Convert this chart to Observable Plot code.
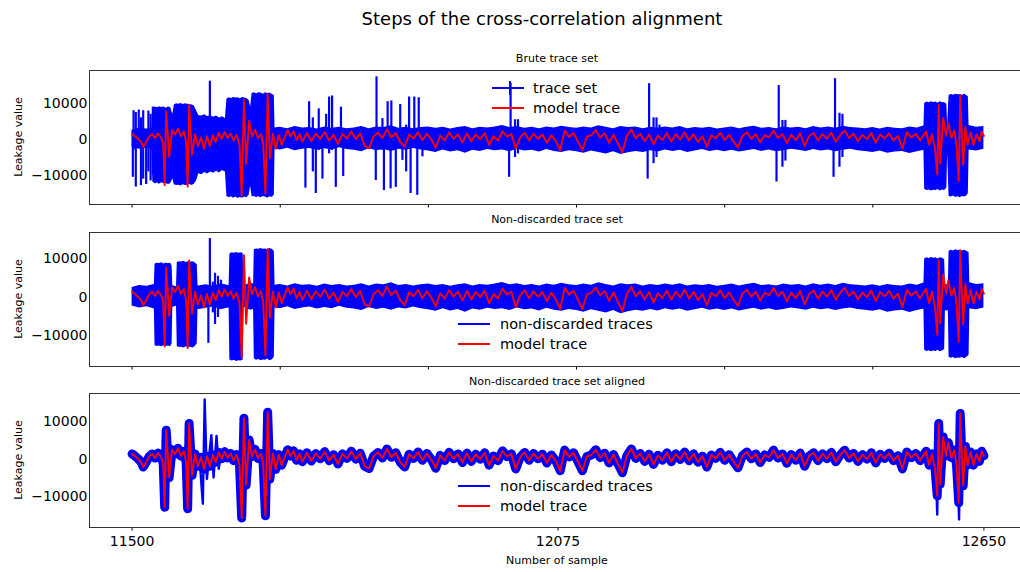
<!DOCTYPE html>
<html>
<head>
<meta charset="utf-8">
<script src="https://cdn.jsdelivr.net/npm/d3@7"></script>
<script src="https://cdn.jsdelivr.net/npm/@observablehq/plot@0.6"></script>
<style>
  html, body { margin: 0; padding: 0; background: #fff; overflow: hidden; }
  #chart { position: relative; width: 1020px; height: 572px; overflow: hidden; font-family: "DejaVu Sans", sans-serif; color: #000; }
  .t { position: absolute; white-space: nowrap; line-height: 1; }
</style>
</head>
<body>
<div id="chart"></div>
<script>
// ---------- data ----------
const xTicksTop = [11500, 11700, 11900, 12100, 12300, 12500];
const xTicksBottom = [11500, 12075, 12650];
const yTicks = [-10000, 0, 10000];

// model trace [sample, leakage]
const modelTrace = [
  [11500,1500],[11504,900],[11508,200],[11512,-600],[11515,-2000],[11519,-700],[11523,800],[11527,1500],
  [11531,400],[11535,1700],[11539,600],[11542,-1000],[11544,-12700],[11546,7800],[11548,2000],[11550,-4800],
  [11554,2600],[11558,1400],[11562,3000],[11566,900],[11570,2200],[11573,-800],[11575,-13100],[11577,9600],
  [11579,2500],[11581,-4200],[11585,1500],[11589,-1800],[11593,600],[11597,-2600],[11601,900],[11605,-1800],
  [11609,1200],[11613,-700],[11617,1900],[11621,200],[11625,2100],[11629,400],[11633,1600],[11637,-300],
  [11641,1300],[11645,-1400],[11648,-15600],[11651,11000],[11654,-6800],[11658,5200],[11662,800],[11666,2700],
  [11670,300],[11674,1600],[11677,-1200],[11680,-15000],[11683,12600],[11686,-5200],[11690,1600],[11694,-2600],
  [11698,1300],[11702,-1500],[11706,600],[11710,2600],[11714,900],[11718,2300],[11722,-200],[11726,1500],[11730,-600],
  [11736,1800],[11742,-400],[11748,1600],[11754,200],[11760,2100],[11766,-300],[11772,1300],[11778,-1200],
  [11784,1500],[11790,300],[11796,2200],[11802,100],[11808,1700],[11814,-1800],[11820,-2400],[11826,900],
  [11832,1900],[11838,400],[11844,2800],[11850,600],[11856,1800],[11862,-700],[11868,-2000],[11874,1400],
  [11880,300],[11886,2000],[11892,-200],[11898,1600],[11904,0],[11910,-2300],[11916,1100],[11922,-300],
  [11928,1900],[11934,200],[11940,1500],[11946,-800],[11952,1700],[11958,-500],[11964,1400],[11970,100],
  [11976,1800],[11982,-1500],[11988,900],[11994,-300],[12000,2300],[12006,800],[12012,1500],[12018,-2500],
  [12024,600],[12030,1900],[12036,-200],[12042,1600],[12048,200],[12054,1400],[12060,-900],[12066,1200],
  [12072,-400],[12078,-3000],[12084,2500],[12090,700],[12096,1800],[12102,-600],[12108,-3000],[12114,800],
  [12120,1200],[12126,2600],[12132,500],[12138,1700],[12144,-900],[12150,1300],[12156,-1200],[12162,-3500],
  [12168,1000],[12174,2800],[12180,300],[12186,1600],[12192,-500],[12198,1400],[12204,-1300],[12210,1100],
  [12216,-200],[12222,1800],[12228,-600],[12234,1500],[12240,0],[12246,2000],[12252,-300],[12258,1500],
  [12264,-700],[12270,900],[12276,-2000],[12282,1200],[12288,300],[12294,1900],[12300,-200],[12306,1300],
  [12312,-600],[12318,-2200],[12324,1000],[12330,2000],[12336,200],[12342,1500],[12348,-800],[12354,1200],
  [12360,600],[12366,2500],[12372,400],[12378,1500],[12384,-1000],[12390,1300],[12396,-200],[12402,1700],
  [12408,-1800],[12414,900],[12420,1800],[12426,-300],[12432,1500],[12438,200],[12444,1900],[12450,-600],
  [12456,1200],[12462,2500],[12468,400],[12474,1600],[12480,-500],[12486,1300],[12492,100],[12498,1800],
  [12504,-900],[12510,1400],[12516,300],[12522,1700],[12528,-300],[12534,1000],[12540,-2500],[12546,2000],
  [12552,500],[12558,1600],[12564,-300],
  [12566,500],[12572,2200],[12576,-1500],[12580,1500],[12584,-2500],[12587,-9700],[12589,9600],[12591,-6600],
  [12595,6000],[12599,1000],[12602,4500],[12606,500],[12610,2500],[12613,-1500],[12616,-11500],[12618,12300],
  [12620,2000],[12622,-7000],[12625,3500],[12628,-1500],[12632,2000],[12636,-1500],[12640,1500],[12644,-500],
  [12647,2200],[12650,1000]
];

// envelope of the quiet part of the trace sets (every 10 samples from 11500)
const bandHigh = [
  2600,3100,2900,3400,3000,3300,2800,3200,3500,3000,
  3300,2900,3600,3100,3400,3000,3700,3200,3500,3100,
  3400,3000,3600,3200,3300,2900,3500,3100,3400,3000,
  3200,3600,3000,3500,3300,3800,3100,3400,3000,3300,
  3500,3100,3400,2900,3300,3600,3000,3400,3200,3500,
  3900,3300,3600,3100,3400,3000,3500,3200,3700,3300,
  3100,3500,3200,3800,3400,3000,3600,3300,3500,3000,
  3400,3100,3500,3200,3600,3000,3300,3100,3400,2900,
  3200,3500,3000,3400,3700,3100,3300,3000,3500,3200,
  3400,3000,3600,3200,3500,3100,3700,3300,3200,3000,
  3300,2900,3400,3100,3000,3500,3200,3800,3400,3600,
  3300,3700,3500,3900,3400,3600
];
const bandLow = [
  -2200,-2700,-2400,-3000,-2500,-2800,-2300,-2900,-2600,-3100,
  -2800,-2400,-3200,-2700,-3000,-2500,-3300,-2800,-3100,-2600,
  -2900,-2400,-3100,-2700,-2500,-3000,-2600,-2900,-2300,-2800,
  -3000,-3400,-2600,-3100,-2800,-3300,-2700,-3000,-2500,-2900,
  -3200,-3600,-2900,-3500,-3100,-3800,-3000,-3300,-2800,-3100,
  -2900,-3400,-2700,-3200,-3000,-3500,-2800,-3300,-3600,-3100,
  -3400,-3800,-3200,-3600,-4000,-3400,-4200,-3700,-3300,-3600,
  -3100,-3500,-2900,-3300,-3000,-3600,-3200,-2800,-3300,-3000,
  -3400,-3000,-3500,-3100,-2800,-3300,-2900,-3400,-3100,-2700,
  -3000,-3300,-2800,-3200,-2900,-3400,-3000,-2700,-3100,-3300,
  -3600,-3200,-3800,-3500,-3300,-3900,-3400,-3000,-3600,-3200,
  -3500,-3000,-3400,-2900,-3200,-2700
];

// bursts of the trace sets: [burst id, sample, low, high]
const bruteBursts = [
  [0,11527,-2500,3000],[0,11528,-11800,8600],[0,11531,-12300,9000],[0,11534,-12100,8800],[0,11537,-12400,9100],
  [0,11540,-12000,8900],[0,11543,-12300,9000],[0,11546,-12200,8700],[0,11549,-12500,9000],[0,11552,-12300,8900],
  [0,11555,-11000,7000],[0,11557,-12600,9600],[0,11560,-12800,9900],[0,11563,-12700,9800],[0,11566,-12900,10000],
  [0,11569,-12600,9700],[0,11572,-12800,9900],[0,11575,-12700,9800],[0,11578,-12500,9700],[0,11581,-12800,9600],
  [0,11584,-12400,9300],[0,11587,-11500,8000],[0,11590,-9500,6700],[0,11594,-9800,6500],[0,11598,-9200,6900],
  [0,11602,-9600,6400],[0,11606,-9000,6600],[0,11610,-9400,6200],[0,11614,-8800,6500],[0,11618,-9300,6000],
  [0,11622,-8600,6300],[0,11626,-9000,5800],[0,11628,-15800,11200],[0,11631,-16200,11600],[0,11634,-15900,11400],
  [0,11637,-16300,11700],[0,11640,-16000,11500],[0,11643,-16400,11600],[0,11646,-16100,11300],[0,11649,-16300,11700],
  [0,11652,-16000,11500],[0,11655,-16200,11400],[0,11658,-15500,10800],[0,11660,-13000,9000],[0,11662,-16000,12800],
  [0,11665,-15800,13000],[0,11668,-16100,12700],[0,11671,-15900,13000],[0,11674,-16200,12900],[0,11677,-15800,12600],
  [0,11680,-16000,13000],[0,11683,-16300,12800],[0,11686,-15900,12900],[0,11689,-16100,12600],[0,11692,-15500,12200],
  [0,11693,-3000,3200],
  [1,12569,-3000,3300],[1,12570,-13800,10000],[1,12573,-14200,10400],[1,12576,-14000,10200],[1,12579,-14300,10500],
  [1,12582,-14100,10300],[1,12585,-14200,10400],[1,12588,-13900,10100],[1,12591,-14300,10500],[1,12594,-14000,10300],
  [1,12597,-14200,10200],[1,12600,-13500,9800],[1,12601,-4000,4000],[1,12603,-15800,12200],[1,12606,-16000,12500],
  [1,12609,-15700,12300],[1,12612,-16100,12600],[1,12615,-15900,12400],[1,12618,-16200,12500],[1,12621,-15800,12300],
  [1,12624,-16000,12600],[1,12627,-15700,12200],[1,12629,-15000,11800],[1,12630,-3400,3500]
];
const keptBursts = [
  [0,11530,-2500,3000],[0,11531,-12500,8700],[0,11534,-12700,8900],[0,11537,-12600,8800],[0,11540,-12800,9000],
  [0,11543,-12500,8700],[0,11546,-12700,8900],[0,11549,-12600,8800],[0,11552,-12800,8900],[0,11554,-12000,8200],
  [0,11555,-2600,3000],
  [1,11560,-2600,3000],[1,11561,-12800,9100],[1,11564,-13000,9300],[1,11567,-12900,9200],[1,11570,-13100,9400],
  [1,11573,-12800,9100],[1,11576,-13000,9300],[1,11579,-12900,9200],[1,11582,-13100,9300],[1,11585,-12800,9000],
  [1,11588,-12000,8500],[1,11589,-2600,3000],
  [2,11631,-2800,3100],[2,11632,-16200,11300],[2,11635,-16500,11600],[2,11638,-16300,11500],[2,11641,-16600,11700],
  [2,11644,-16400,11500],[2,11647,-16500,11600],[2,11650,-16200,11400],[2,11651,-2800,3100],
  [3,11664,-2800,3100],[3,11665,-16000,12400],[3,11668,-16300,12600],[3,11671,-16100,12500],[3,11674,-16400,12700],
  [3,11677,-16200,12500],[3,11680,-16300,12600],[3,11683,-16000,12400],[3,11686,-16400,12700],[3,11689,-16200,12500],
  [3,11692,-15600,12000],[3,11693,-2800,3100],
  [4,12569,-3000,3300],[4,12570,-13700,10000],[4,12573,-14000,10300],[4,12576,-13800,10100],[4,12579,-14100,10400],
  [4,12582,-13900,10200],[4,12585,-14000,10300],[4,12588,-13700,10000],[4,12591,-14100,10300],[4,12594,-13900,10200],
  [4,12597,-13500,9800],[4,12598,-3500,3500],
  [5,12602,-3500,3500],[5,12603,-15500,12000],[5,12606,-15800,12300],[5,12609,-15600,12100],[5,12612,-15900,12400],
  [5,12615,-15700,12200],[5,12618,-15800,12300],[5,12621,-15600,12100],[5,12624,-15900,12300],[5,12627,-15500,12000],
  [5,12630,-15000,11600],[5,12631,-3300,3500]
];

// single excursions [sample, low, high]
const bruteSpikes = [
  [11501,-10500,2500],[11502,-3000,8000],[11505,-13200,7500],[11509,-2500,8200],[11512,-12800,6000],
  [11515,-11000,8000],[11519,-12500,2000],[11522,-9000,7900],[11525,-11500,7000],[11528,-10000,9000],
  [11605,-2000,16200],
  [11734,-13500,2500],[11739,-2000,10500],[11744,-9000,6000],[11748,-15000,2000],[11752,-3000,8500],
  [11757,-11000,2000],[11762,-2000,7000],[11766,-4000,11800],[11770,-3000,12100],[11775,-13300,2000],
  [11782,-2000,9000],[11785,-10300,2000],
  [11829,-11400,2000],[11830,-2000,17400],[11838,-3000,5800],[11840,-14200,2000],[11845,-2000,10500],
  [11849,-13700,2000],[11850,-2000,10700],[11856,-13300,2000],[11862,-2000,9700],[11865,-5800,2000],
  [11870,-9000,4000],[11874,-2000,11800],[11876,-15000,2000],[11881,-2000,11800],[11885,-15500,2000],
  [11887,-2000,11600],[11892,-4800,2000],
  [12009,-10500,1000],[12011,-1000,15600],[12017,-5000,5500],[12021,-4000,5500],
  [12196,-11000,1000],[12198,-1000,15500],[12204,-6700,6000],[12208,-5000,6000],[12212,-3000,4000],
  [12370,-11800,1000],[12373,-1000,15000],[12378,-7700,5300],[12382,-6000,5300],
  [12447,-10500,1000],[12449,-1000,16900],[12455,-7700,7300],[12459,-5000,7000]
];
const keptSpikes = [
  [11603,-11900,2000],[11605,-2000,15300],[11609,-4000,4000],[11612,-7000,6300],[11616,-5200,5500],[11620,-3000,4500]
];

// aligned traces: excursions beyond the model [segment, sample, leakage]
const alignedExtra = [
  [0,11591,500],[0,11595.5,-11800],[0,11598,16000],[0,11601,-5200],[0,11604,1000],[0,11607,6500],
  [0,11610,-4800],[0,11614,6300],[0,11617,-2500],[0,11620,1500],
  [1,12585,-2000],[1,12587,-14700],[1,12589,10500],[1,12591,-5000],
  [2,12614,-1500],[2,12616.5,-16000],[2,12618,12800],[2,12620,1000]
];

const titles = ["Brute trace set", "Non-discarded trace set", "Non-discarded trace set aligned"];

// ---------- build ----------
const root = document.getElementById("chart");
const BLUE = "#0000ff", RED = "#ff0000";
const xDomain = [11442.5, 12707.5];
const model = modelTrace.map(([x, y]) => ({x, y}));
const band = bandHigh.map((h, i) => ({x: 11500 + 10 * i, hi: h, lo: bandLow[i]}));
const toBurst = a => a.map(([id, x, lo, hi]) => ({id, x, lo, hi}));
const toRule = a => a.map(([x, y1, y2]) => ({x, y1, y2}));
const extra = alignedExtra.map(([z, x, y]) => ({z, x, y}));
const fmtY = d => d < 0 ? "\u2212" + Math.abs(d) : String(d);

const MT = 6, MB = 28, FH = 134;
function panel(frameTop, yDomain, marks, bottom) {
  const svg = Plot.plot({
    width: 1030, height: FH + MT + MB,
    marginLeft: 89, marginRight: 4, marginTop: MT, marginBottom: MB,
    x: {domain: xDomain, ticks: bottom ? xTicksBottom : xTicksTop, tickSize: 3.5, tickPadding: 5,
        tickFormat: bottom ? (d => String(d)) : (() => ""), label: null},
    y: {domain: yDomain, ticks: yTicks, tickSize: 0, tickPadding: 2, tickFormat: fmtY, label: null},
    style: {fontFamily: "DejaVu Sans", fontSize: "14px", color: "#000", background: "none", maxWidth: "none", overflow: "visible"},
    marks: [...marks, Plot.frame({stroke: "#333", strokeWidth: 1})]
  });
  svg.style.position = "absolute";
  svg.style.left = "0px";
  svg.style.top = (frameTop - MT) + "px";
  root.appendChild(svg);
}

const redLine = Plot.line(model, {x: "x", y: "y", stroke: RED, strokeWidth: 1.9, strokeLinejoin: "round", clip: true});
const bandArea = Plot.areaY(band, {x: "x", y1: "lo", y2: "hi", fill: BLUE, clip: true});

panel(70, [-18056, 19167], [
  bandArea,
  Plot.areaY(toBurst(bruteBursts), {x: "x", y1: "lo", y2: "hi", z: "id", fill: BLUE, clip: true}),
  Plot.ruleX(toRule(bruteSpikes), {x: "x", y1: "y1", y2: "y2", stroke: BLUE, strokeWidth: 2.2, clip: true}),
  redLine
], false);

panel(232, [-17920, 16880], [
  bandArea,
  Plot.areaY(toBurst(keptBursts), {x: "x", y1: "lo", y2: "hi", z: "id", fill: BLUE, clip: true}),
  Plot.ruleX(toRule(keptSpikes), {x: "x", y1: "y1", y2: "y2", stroke: BLUE, strokeWidth: 2.2, clip: true}),
  redLine
], false);

panel(393, [-18130, 17600], [
  Plot.line(model, {x: "x", y: "y", stroke: BLUE, strokeWidth: 9, strokeLinejoin: "round", strokeLinecap: "round", clip: true}),
  Plot.line(extra, {x: "x", y: "y", z: "z", stroke: BLUE, strokeWidth: 2.4, strokeLinejoin: "round", clip: true}),
  redLine
], true);

// ---------- texts ----------
function text(str, x, y, size, opts = {}) {
  const d = document.createElement("div");
  d.className = "t";
  d.textContent = str;
  d.style.fontSize = size + "px";
  d.style.left = x + "px";
  d.style.top = y + "px";
  d.style.transform = opts.transform || "translate(-50%, -50%)";
  if (opts.rotate) d.style.transform = "translate(-50%, -50%) rotate(-90deg)";
  root.appendChild(d);
  return d;
}
text("Steps of the cross-correlation alignment", 542, 19, 18);
text(titles[0], 557, 57.5, 11);
text(titles[1], 557, 218.5, 11);
text(titles[2], 557, 381, 11);
[137, 299, 460].forEach(cy => text("Leakage value", 18, cy, 11, {rotate: true}));
text("Number of sample", 557, 560, 11);

function legend(items, lineX, textX) {
  items.forEach(({label, color, y, cross}) => {
    const ns = "http://www.w3.org/2000/svg";
    const s = document.createElementNS(ns, "svg");
    s.setAttribute("width", 34); s.setAttribute("height", 18);
    s.style.position = "absolute"; s.style.left = lineX + "px"; s.style.top = (y - 9) + "px";
    const l = document.createElementNS(ns, "line");
    l.setAttribute("x1", 0); l.setAttribute("x2", 32); l.setAttribute("y1", 9); l.setAttribute("y2", 9);
    l.setAttribute("stroke", color); l.setAttribute("stroke-width", 2);
    s.appendChild(l);
    if (cross) {
      const v = document.createElementNS(ns, "line");
      v.setAttribute("x1", 18); v.setAttribute("x2", 18); v.setAttribute("y1", 2); v.setAttribute("y2", 16);
      v.setAttribute("stroke", color); v.setAttribute("stroke-width", 2);
      s.appendChild(v);
    }
    root.appendChild(s);
    text(label, textX, y, 14.5, {transform: "translate(0, -50%)"});
  });
}
legend([{label: "trace set", color: BLUE, y: 88, cross: true}, {label: "model trace", color: RED, y: 108}], 492, 533);
legend([{label: "non-discarded traces", color: BLUE, y: 324}, {label: "model trace", color: RED, y: 344}], 458, 500);
legend([{label: "non-discarded traces", color: BLUE, y: 486}, {label: "model trace", color: RED, y: 506}], 458, 500);
</script>
</body>
</html>
